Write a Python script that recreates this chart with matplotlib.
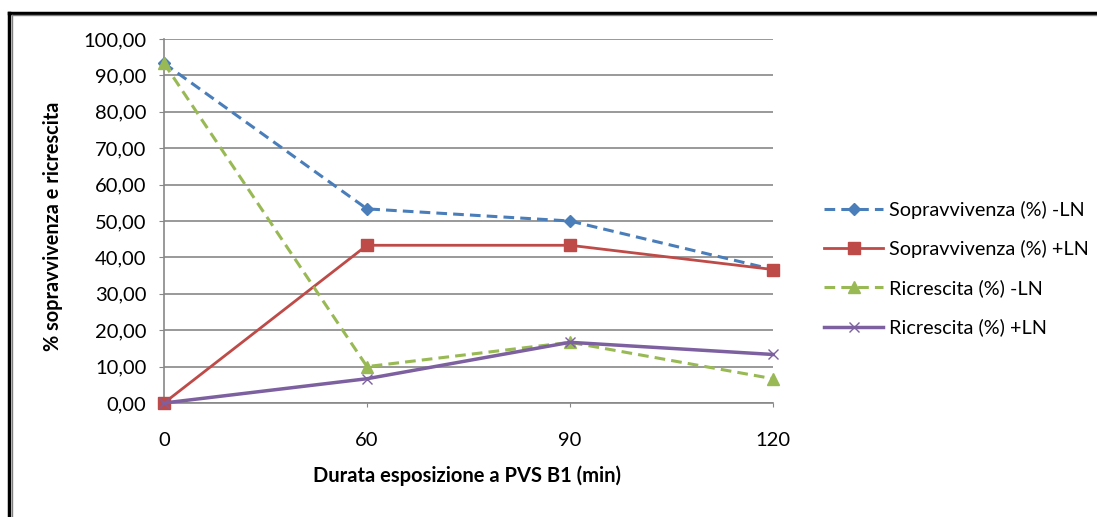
import matplotlib.pyplot as plt
from matplotlib.lines import Line2D

plt.rcParams['font.family'] = ['Lato', 'DejaVu Sans']

categories = ["0", "60", "90", "120"]
sopr_meno = [93.33, 53.33, 50.0, 36.67]
sopr_piu = [0.0, 43.33, 43.33, 36.67]
ricr_meno = [93.33, 10.0, 16.67, 6.67]
ricr_piu = [0.0, 6.67, 16.67, 13.33]
y_ticks = list(range(0, 101, 10))

W, H = 1097, 517
fig = plt.figure(figsize=(W / 100, H / 100), dpi=100)
ax = fig.add_axes([164 / W, 1 - 403 / H, 609 / W, 364 / H])

x = range(len(categories))
ax.plot(x, sopr_meno, color='#4A7EBB', ls=(0, (3.5, 2)), lw=2.2, marker='D',
        ms=6.5, label="Sopravvivenza (%) -LN", clip_on=False, zorder=3)
ax.plot(x, sopr_piu, color='#BE4B48', lw=2.0, marker='s', ms=9,
        label="Sopravvivenza (%) +LN", clip_on=False, zorder=3)
ax.plot(x, ricr_meno, color='#98B954', ls=(0, (3.5, 2)), lw=2.2, marker='^',
        ms=8, label="Ricrescita (%) -LN", clip_on=False, zorder=3)
ax.plot(x, ricr_piu, color='#7D60A0', lw=2.5, marker='x', ms=7, mew=1,
        label="Ricrescita (%) +LN", clip_on=False, zorder=3)

ax.set_xlim(0, 3)
ax.set_ylim(0, 100)
ax.set_xticks(list(x))
ax.set_xticklabels(categories)
ax.set_yticks(y_ticks)
ax.set_yticklabels([f"{v:.2f}".replace(".", ",") for v in y_ticks])
ax.grid(axis='y', color='#878787', lw=1.2)
ax.set_axisbelow(True)
for s in ['top', 'right']:
    ax.spines[s].set_visible(False)
for s in ['left', 'bottom']:
    ax.spines[s].set_color('#878787')
    ax.spines[s].set_linewidth(1.2)
ax.tick_params(axis='y', length=3.6, color='#878787', labelsize=14.5, pad=9)
ax.tick_params(axis='x', length=3, color='#878787', labelsize=14.5, pad=18)

fig.text(467 / W, 1 - 476 / H, "Durata esposizione a PVS B1 (min)",
         fontsize=14.5, fontweight='bold', ha='center', va='center')
fig.text(53 / W, 1 - 226 / H, "% sopravvivenza e ricrescita",
         fontsize=14.3, fontweight='bold', ha='center', va='center',
         rotation=90)

fig.legend(loc='upper left', bbox_to_anchor=(806 / W, 1 - 183 / H),
           frameon=False, fontsize=14.3, handlelength=3.0, labelspacing=1.07,
           handletextpad=0.3)

# cornice del grafico (solo bordo superiore e sinistro visibili)
fig.add_artist(Line2D([9 / W, 1], [1 - 13 / H, 1 - 13 / H], color='black',
                      lw=2.5, transform=fig.transFigure))
fig.add_artist(Line2D([12 / W, 1], [1 - 15 / H, 1 - 15 / H], color='#808080',
                      lw=1, transform=fig.transFigure))
fig.add_artist(Line2D([9 / W, 9 / W], [0, 1 - 13 / H], color='black',
                      lw=2.5, transform=fig.transFigure))
fig.add_artist(Line2D([12 / W, 12 / W], [0, 1 - 15 / H], color='#808080',
                      lw=1, transform=fig.transFigure))

fig.savefig("out.png", dpi=100)
